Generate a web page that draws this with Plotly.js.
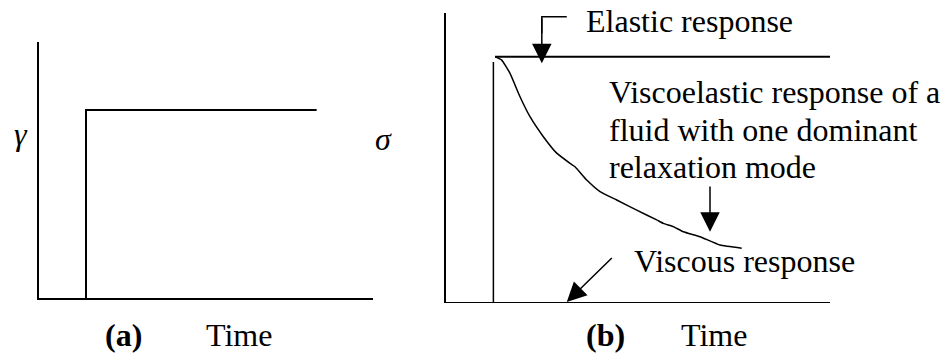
<!DOCTYPE html>
<html>
<head>
<meta charset="utf-8">
<script src="https://cdn.plot.ly/plotly-3.0.1.min.js"></script>
<style>
  html, body { margin: 0; padding: 0; background: #fff; }
  #chart { width: 950px; height: 354px; }
</style>
</head>
<body>
<div id="chart"></div>
<script>
// (a) imposed step in strain, gamma(t)
const strainTime  = [1.408, 1.408, 8.32];
const strainValue = [0, 0.734, 0.734];

// (b) stress responses, sigma(t)
const stepTime      = [1.24, 1.24];
const stepValue     = [0, 0.83];
const elasticTime   = [1.283, 10];
const elasticValue  = [0.849, 0.849];
const relaxTime  = [1.283, 1.457, 1.673, 1.933, 2.193, 2.54, 2.888, 3.234, 3.364, 3.669,
                    4.015, 4.45, 4.97, 5.49, 5.662, 5.922, 6.183, 6.616, 7.137, 7.702];
const relaxValue = [0.849, 0.837, 0.791, 0.71, 0.641, 0.572, 0.515, 0.48, 0.468, 0.422,
                    0.382, 0.353, 0.318, 0.284, 0.272, 0.261, 0.243, 0.226, 0.197, 0.186];

// callout labels of panel (b)
const labelElastic  = 'Elastic response';
const labelViscoEl  = ['Viscoelastic response of a', 'fluid with one dominant', 'relaxation mode'];
const labelViscous  = 'Viscous response';
const panelTags     = ['(a)', '(b)'];
const axisWord      = 'Time';
const axisSymbols   = ['γ', 'σ'];

// arrow geometry in panel (b) data units: [tailX, tailY, tipX, tipY]
const arrowElastic  = [2.50, 0.987, 2.50, 0.826];
const bracketTime   = [3.15, 2.50, 2.50];
const bracketValue  = [0.987, 0.987, 0.93];
const arrowRelax    = [6.877, 0.405, 6.877, 0.243];
const arrowViscous  = [4.361, 0.157, 3.149, 0.0];

const txt = { family: 'Liberation Serif', size: 32, color: '#000' };

const traces = [
  { x: strainTime, y: strainValue, xaxis: 'x', yaxis: 'y', mode: 'lines',
    line: { color: '#000', width: 2 } },
  { x: stepTime, y: stepValue, xaxis: 'x2', yaxis: 'y2', mode: 'lines',
    line: { color: '#000', width: 1.5 } },
  { x: elasticTime, y: elasticValue, xaxis: 'x2', yaxis: 'y2', mode: 'lines',
    line: { color: '#000', width: 2 } },
  { x: relaxTime, y: relaxValue, xaxis: 'x2', yaxis: 'y2', mode: 'lines',
    line: { color: '#000', width: 1.5, shape: 'spline', smoothing: 0.4 } },
  { x: bracketTime, y: bracketValue, xaxis: 'x2', yaxis: 'y2', mode: 'lines',
    line: { color: '#000', width: 1.5 } }
];

function bareAxis(domain, extra) {
  return Object.assign({
    domain: domain, range: [0, 10], showline: true, linecolor: '#000', linewidth: 1.5,
    showgrid: false, zeroline: false, showticklabels: false, ticks: '', fixedrange: true
  }, extra || {});
}

function arrow(a, xr, yr) {
  return { xref: xr, yref: yr, axref: xr, ayref: yr,
    x: a[2], y: a[3], ax: a[0], ay: a[1], text: '', showarrow: true,
    arrowhead: 2, arrowsize: 2.6, arrowwidth: 1.5, arrowcolor: '#000', standoff: 0 };
}

function label(text, x, y, xr, yr, xanchor) {
  return { xref: xr, yref: yr, x: x, y: y, text: text, showarrow: false,
    xanchor: xanchor, yanchor: 'middle', align: 'left', font: txt };
}

// vertical position shared by the labels under both panels (paper units)
const underY = 0.0531;
// the three lines of the viscoelastic callout, set a little tighter than Plotly's <br>
const viscoElY = [0.7259, 0.5962, 0.4664];

const layout = {
  width: 950, height: 354,
  margin: { l: 0, r: 0, t: 0, b: 0 },
  paper_bgcolor: '#fff', plot_bgcolor: '#fff',
  showlegend: false, hovermode: false,
  xaxis:  bareAxis([0.04105, 0.3923], { anchor: 'y' }),
  yaxis:  bareAxis([0.1573, 0.8822], { anchor: 'x', range: [0, 1] }),
  xaxis2: bareAxis([0.4692, 0.8737], { anchor: 'y2' }),
  yaxis2: bareAxis([0.1469, 0.9633], { anchor: 'x2', range: [0, 1] }),
  annotations: [
    // panel (a)
    label('<i>' + axisSymbols[0] + '</i>', 0.0219, 0.6218, 'paper', 'paper', 'center'),
    label('<b>' + panelTags[0] + '</b>', 2.547, underY, 'x', 'paper', 'center'),
    label(axisWord, 5.99, underY, 'x', 'paper', 'center'),
    // symbol for panel (b)
    label('<i>' + axisSymbols[1] + '</i>', 0.4032, 0.6068, 'paper', 'paper', 'center'),
    // panel (b)
    label(labelElastic, 3.59, 0.9706, 'x2', 'y2', 'left'),
    label(labelViscoEl[0], 4.20, viscoElY[0], 'x2', 'y2', 'left'),
    label(labelViscoEl[1], 4.20, viscoElY[1], 'x2', 'y2', 'left'),
    label(labelViscoEl[2], 4.20, viscoElY[2], 'x2', 'y2', 'left'),
    label(labelViscous, 4.85, 0.1419, 'x2', 'y2', 'left'),
    label('<b>' + panelTags[1] + '</b>', 4.147, underY, 'x2', 'paper', 'center'),
    label(axisWord, 6.98, underY, 'x2', 'paper', 'center'),
    arrow(arrowElastic, 'x2', 'y2'),
    arrow(arrowRelax, 'x2', 'y2'),
    arrow(arrowViscous, 'x2', 'y2')
  ]
};

Plotly.newPlot('chart', traces, layout, { staticPlot: true, displayModeBar: false });
</script>
</body>
</html>
